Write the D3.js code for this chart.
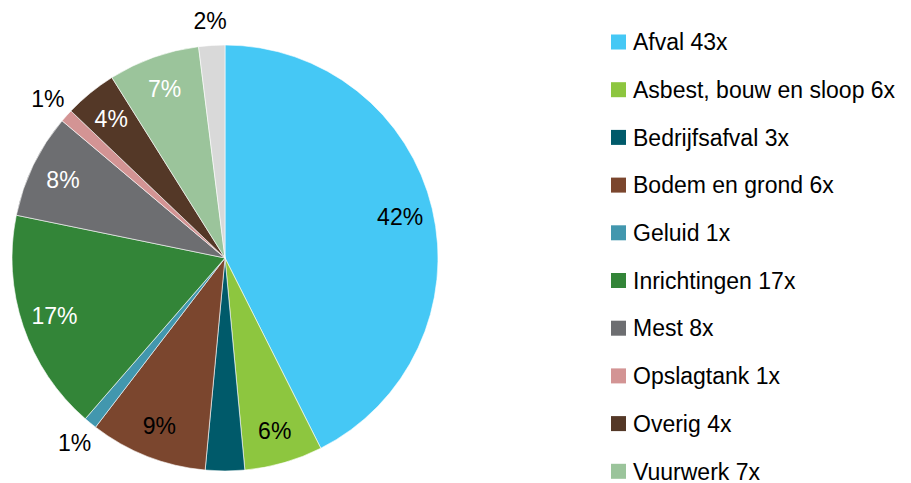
<!DOCTYPE html>
<html>
<head>
<meta charset="utf-8">
<script src="https://cdn.jsdelivr.net/npm/d3@7"></script>
<style>
  body { margin: 0; background: #fff; }
  text { font-family: "Liberation Sans", Arial, sans-serif; }
</style>
</head>
<body>
<svg width="911" height="483"></svg>
<script>
const categories = ['Afval', 'Asbest, bouw en sloop', 'Bedrijfsafval', 'Bodem en grond', 'Geluid',
  'Inrichtingen', 'Mest', 'Opslagtank', 'Overig', 'Vuurwerk', 'Overige'];
const counts = [43, 6, 3, 6, 1, 17, 8, 1, 4, 7, null];
const sliceValues = [43, 6, 3, 9, 1, 17, 8, 1, 4, 7, 2];
const pctLabels = [42, 6, 3, 9, 1, 17, 8, 1, 4, 7, 2];
const colors = ['#45c8f5', '#8dc63f', '#005a6a', '#7b462e', '#4297ae', '#338538',
  '#6d6e71', '#d39494', '#543827', '#9bc49b', '#d9d9d9'];
const labelColors = ['#000', '#000', null, '#000', null, '#fff', '#fff', null, '#fff', '#fff', null];
const outside = [false, false, false, false, true, false, false, true, false, false, true];

const data = categories.map((c, i) => ({
  name: c, count: counts[i], value: sliceValues[i], pct: pctLabels[i], color: colors[i],
  labelColor: labelColors[i], outside: outside[i]
}));

const svg = d3.select('svg');
const radius = 213;

const g = svg.append('g')
  .attr('transform', `translate(225,258)`);

const pie = d3.pie()
  .sort(null)
  .value(d => d.value);

const arc = d3.arc()
  .innerRadius(0)
  .outerRadius(radius);

const arcs = pie(data);

g.selectAll('path')
  .data(arcs)
  .enter().append('path')
  .attr('d', arc)
  .attr('fill', d => d.data.color)
  .attr('stroke', '#fff')
  .attr('stroke-width', 0.6);

const inArc = d3.arc().innerRadius(180).outerRadius(180);
const outArc = d3.arc().innerRadius(238).outerRadius(238);

g.selectAll('.lbl')
  .data(arcs.filter(d => d.data.outside || d.data.labelColor))
  .enter().append('text')
  .attr('class', 'lbl')
  .attr('transform', d => `translate(${(d.data.outside ? outArc : inArc).centroid(d)})`)
  .attr('text-anchor', 'middle')
  .attr('dy', '0.36em')
  .attr('font-size', 23)
  .attr('fill', d => d.data.outside ? '#000' : d.data.labelColor)
  .text(d => d.data.pct + '%');

// legend
const legend = svg.append('g')
  .attr('transform', 'translate(611,0)');

const rows = legend.selectAll('g')
  .data(data.filter(d => d.count !== null))
  .enter().append('g')
  .attr('transform', (d, i) => `translate(0,${42 + i * 47.7})`);

rows.append('rect')
  .attr('x', 0)
  .attr('y', -7.5)
  .attr('width', 15)
  .attr('height', 15)
  .attr('fill', d => d.color);

rows.append('text')
  .attr('x', 22)
  .attr('dy', '0.36em')
  .attr('font-size', 23)
  .attr('fill', '#000')
  .text(d => `${d.name} ${d.count}x`);
</script>
</body>
</html>
